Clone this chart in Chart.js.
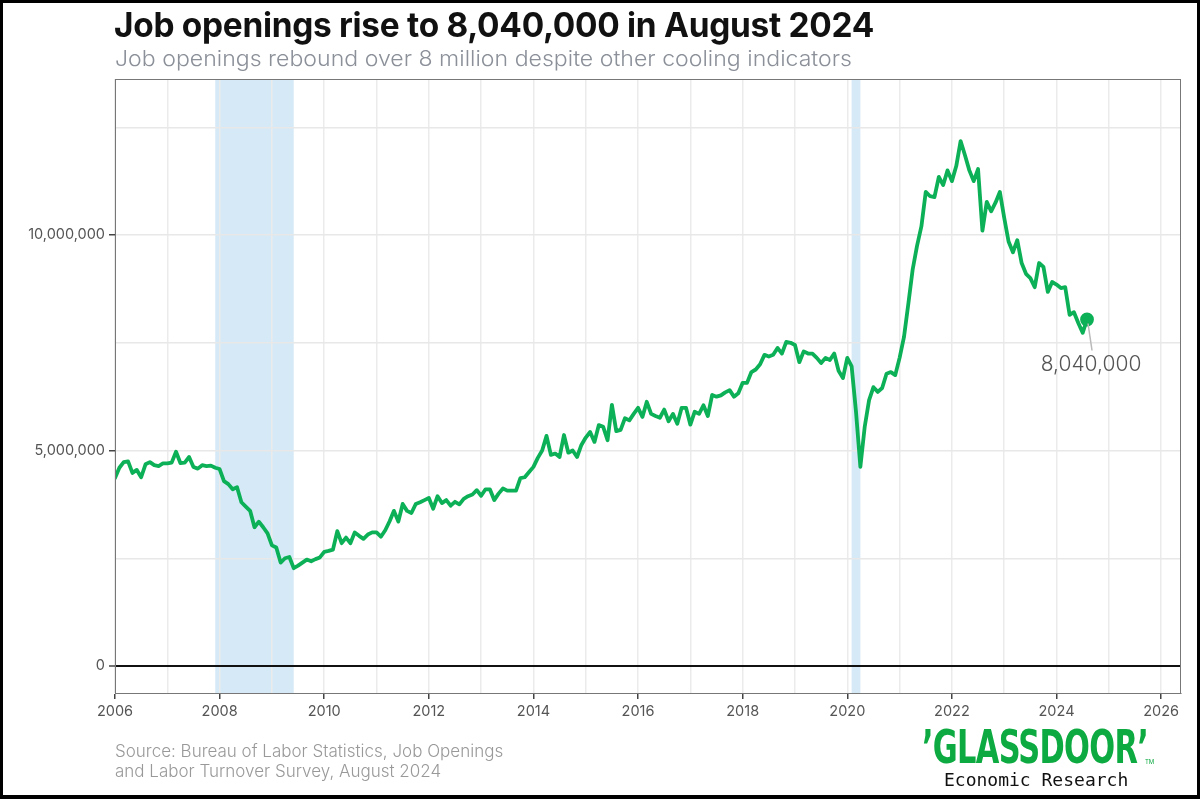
<!DOCTYPE html>
<html>
<head>
<meta charset="utf-8">
<script src="https://cdn.jsdelivr.net/npm/chart.js@4.4.1/dist/chart.umd.min.js"></script>
<style>
  html, body { margin: 0; padding: 0; background: #fff; }
  #wrap { position: relative; width: 1200px; height: 799px; overflow: hidden; background: #fff; }
  #frame { position: absolute; left: 0; top: 0; width: 1200px; height: 799px; box-sizing: border-box;
           border: 3px solid #000; border-bottom-width: 4px; pointer-events: none; z-index: 5; }
  canvas { position: absolute; left: 0; top: 0; }
  .title { position: absolute; left: 114px; top: 4px; font-family: Inter, "Liberation Sans", sans-serif;
           font-weight: 700; font-size: 34px; color: #111; white-space: nowrap; letter-spacing: -0.3px; transform-origin: left top; }
  .subtitle { position: absolute; left: 115px; top: 45px; font-family: Inter, "Liberation Sans", sans-serif;
           font-weight: 300; font-size: 22px; color: #8b9099; white-space: nowrap; transform-origin: left top; }
  .source { position: absolute; left: 115px; top: 741px; font-family: Inter, "Liberation Sans", sans-serif;
           font-weight: 300; font-size: 17px; line-height: 20px; color: #999; white-space: nowrap; }
  .logo { position: absolute; left: 922px; top: 724px; font-family: "DejaVu Sans Condensed", "Liberation Sans", sans-serif;
          font-weight: 700; font-size: 47px; line-height: 46px; color: #0caa41; white-space: nowrap; letter-spacing: -1px; transform-origin: left top; }
  .tm { position: absolute; left: 1145px; top: 758px; font-family: Inter, sans-serif; font-size: 6px; color: #0caa41; }
  .econ { position: absolute; left: 944px; top: 769px; font-family: "DejaVu Sans Mono", "Liberation Mono", monospace;
          font-size: 18px; color: #111; white-space: nowrap; }
</style>
</head>
<body>
<div id="wrap">
  <canvas id="c" width="1200" height="799"></canvas>
  <div class="title" id="title">Job openings rise to 8,040,000 in August 2024</div>
  <div class="subtitle" id="subtitle">Job openings rebound over 8 million despite other cooling indicators</div>
  <div class="source">Source: Bureau of Labor Statistics, Job Openings<br>and Labor Turnover Survey, August 2024</div>
  <div class="logo" id="logo">’GLASSDOOR’</div>
  <div class="tm">TM</div>
  <div class="econ">Economic Research</div>
  <div id="frame"></div>
</div>
<script>
// ---- Data (monthly job openings, thousands), starting January 2006 ----
const startYear = 2006;
const openings2006_2009 = [
  4360, 4600, 4730, 4750, 4480, 4550, 4380, 4680, 4730, 4660, 4640, 4700,
  4700, 4720, 4970, 4710, 4720, 4850, 4620, 4580, 4660, 4640, 4650, 4600,
  4570, 4290, 4220, 4100, 4150, 3800, 3700, 3600, 3220, 3350, 3220, 3080,
  2800, 2750, 2400, 2500, 2530, 2270, 2330, 2400, 2470, 2430, 2480, 2520
];
const openings2010_2013 = [
  2650, 2670, 2700, 3130, 2850, 2980, 2850, 3100, 3020, 2950, 3050, 3100,
  3100, 3000, 3150, 3360, 3600, 3350, 3760, 3600, 3550, 3760, 3800, 3850,
  3900, 3650, 3940, 3780, 3850, 3720, 3810, 3750, 3880, 3940, 3980, 4080,
  3950, 4100, 4100, 3850, 4000, 4120, 4070, 4070, 4070, 4360, 4380, 4500
];
const openings2014_2017 = [
  4620, 4830, 5000, 5340, 4900, 4930, 4850, 5360, 4950, 5000, 4850, 5130,
  5300, 5430, 5200, 5590, 5550, 5240, 6060, 5450, 5480, 5750, 5700, 5850,
  5990, 5780, 6130, 5850, 5800, 5760, 5950, 5680, 5850, 5620, 5990, 5990,
  5600, 5900, 5850, 6050, 5800, 6290, 6250, 6280, 6350, 6400, 6250, 6330
];
const openings2018_2021 = [
  6570, 6570, 6820, 6880, 7000, 7220, 7180, 7220, 7380, 7250, 7520, 7500,
  7450, 7050, 7300, 7250, 7250, 7150, 7030, 7150, 7100, 7250, 6850, 6680,
  7150, 6950, 5900, 4620, 5550, 6170, 6470, 6360, 6450, 6780, 6820, 6750,
  7150, 7630, 8400, 9200, 9750, 10200, 11000, 10900, 10880, 11350, 11160, 11500
];
const openings2022_2024 = [
  11250, 11600, 12180, 11850, 11500, 11250, 11530, 10100, 10770, 10550, 10750, 11000,
  10400, 9850, 9600, 9880, 9350, 9100, 9000, 8790, 9350, 9260, 8680, 8910,
  8850, 8770, 8790, 8150, 8210, 7960, 7730, 8040
];
const openings = [].concat(openings2006_2009, openings2010_2013, openings2014_2017, openings2018_2021, openings2022_2024);

// Recession periods (decimal years): Dec 2007 - Jun 2009, Feb 2020 - Apr 2020
const recessionStarts = [2007 + 11/12, 2020 + 1/12];
const recessionEnds   = [2009 + 5/12, 2020 + 3/12];

// Axis ticks
const xTickYears = [2006, 2007, 2008, 2009, 2010, 2011, 2012, 2013, 2014, 2015, 2016,
                    2017, 2018, 2019, 2020, 2021, 2022, 2023, 2024, 2025, 2026];
const yTickValues = [0, 2500, 5000, 7500, 10000, 12500];   // thousands
const yLabelEvery = 5000;
const calloutText = '8,040,000';

const points = openings.map((v, i) => ({ x: startYear + i / 12, y: v }));
const lastIdx = points.length - 1;
const green = '#0cb056';

function fitWidth(id, target) {
  const el = document.getElementById(id);
  const w = el.getBoundingClientRect().width;
  if (w > 0) el.style.transform = 'scaleX(' + (target / w) + ')';
}
fitWidth('title', 760);
fitWidth('subtitle', 737);
fitWidth('logo', 226);

const bandsPlugin = {
  id: 'bands',
  beforeDraw(chart) {
    const { ctx, chartArea: a, scales: { x } } = chart;
    ctx.save();
    ctx.fillStyle = '#d5e9f7';
    for (let i = 0; i < recessionStarts.length; i++) {
      const x0 = x.getPixelForValue(recessionStarts[i]);
      const x1 = x.getPixelForValue(recessionEnds[i]);
      ctx.fillRect(x0, a.top, x1 - x0, a.bottom - a.top);
    }
    ctx.restore();
  },
  afterDraw(chart) {
    const { ctx, chartArea: a, scales: { x, y } } = chart;
    ctx.save();
    ctx.strokeStyle = '#777';
    ctx.lineWidth = 1;
    ctx.strokeRect(a.left + 0.5, a.top + 0.5, a.right - a.left - 1, a.bottom - a.top);
    const px = x.getPixelForValue(points[lastIdx].x);
    const py = y.getPixelForValue(points[lastIdx].y);
    ctx.strokeStyle = '#b9b9b9';
    ctx.lineWidth = 1.5;
    ctx.beginPath();
    ctx.moveTo(px + 1, py + 4);
    ctx.lineTo(px + 5, py + 31);
    ctx.stroke();
    ctx.fillStyle = '#555';
    ctx.font = '300 21px Inter, sans-serif';
    ctx.textAlign = 'center';
    ctx.textBaseline = 'middle';
    ctx.fillText(calloutText, px + 4, py + 45);
    ctx.restore();
  }
};

new Chart(document.getElementById('c'), {
  type: 'line',
  data: {
    datasets: [{
      data: points,
      borderColor: green,
      backgroundColor: green,
      borderWidth: 3.8,
      tension: 0,
      pointRadius: (c) => c.dataIndex === lastIdx ? 5 : 0,
      pointHoverRadius: 0,
      borderJoinStyle: 'round',
      borderCapStyle: 'round'
    }]
  },
  options: {
    responsive: false,
    animation: false,
    events: [],
    layout: { padding: { top: 79, right: 19, bottom: 0, left: 0 } },
    plugins: { legend: { display: false }, tooltip: { enabled: false } },
    scales: {
      x: {
        type: 'linear',
        min: 2006,
        max: 2026.38,
        afterFit(s) { s.height = 106; },
        afterBuildTicks(s) { s.ticks = xTickYears.map(v => ({ value: v })); },
        ticks: {
          autoSkip: false,
          maxRotation: 0,
          color: '#555',
          font: { family: 'Inter, sans-serif', size: 14.5, weight: 400 },
          padding: 4,
          callback: (v) => (v % 2 === 0 ? String(v) : '')
        },
        grid: {
          color: '#ebebeb',
          lineWidth: 1.5,
          tickLength: 6,
          tickColor: (c) => (c.tick && c.tick.value % 2 === 0 ? '#444' : 'rgba(0,0,0,0)'),
          tickWidth: 1.5
        },
        border: { display: true, color: '#666', width: 1 }
      },
      y: {
        type: 'linear',
        min: -626,
        max: 13620,
        afterFit(s) { s.width = 115; },
        afterBuildTicks(s) { s.ticks = yTickValues.map(v => ({ value: v })); },
        ticks: {
          autoSkip: false,
          color: '#555',
          font: { family: 'Inter, sans-serif', size: 14.5, weight: 400 },
          padding: 4,
          callback: (v) => (v % yLabelEvery === 0 ? (v * 1000).toLocaleString('en-US') : '')
        },
        grid: {
          color: (c) => (c.tick && c.tick.value === 0 ? '#111' : '#e8e8e8'),
          lineWidth: (c) => (c.tick && c.tick.value === 0 ? 2 : 1.5),
          tickLength: 6,
          tickColor: (c) => (c.tick && c.tick.value % yLabelEvery === 0 ? '#444' : 'rgba(0,0,0,0)'),
          tickWidth: 1.5
        },
        border: { display: true, color: '#666', width: 1 }
      }
    }
  },
  plugins: [bandsPlugin]
});
</script>
</body>
</html>
